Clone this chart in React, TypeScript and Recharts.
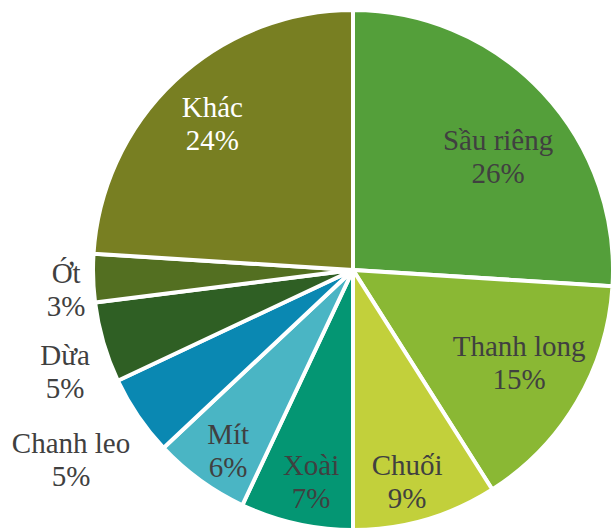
import { PieChart, Pie, Cell } from "recharts";

const fruits = ["Sầu riêng", "Thanh long", "Chuối", "Xoài", "Mít", "Chanh leo", "Dừa", "Ớt", "Khác"];
const shares = [26, 15, 9, 7, 6, 5, 5, 3, 24];
const sliceColors = ["#549f3a", "#8ab834", "#c2d03b", "#049673", "#4ab5c4", "#0a88b2", "#2f5f24", "#536f21", "#787f22"];

// label placement: distance from centre (share of radius) and a small angle nudge in degrees
const labelDist = [0.717, 0.725, 0.827, 0.816, 0.833, 1.299, 1.17, 1.105, 0.79];
const labelNudge = [-4.3, 2.4, -1.6, 1.2, 0.8, -0.8, 2.6, 1.4, 0];
const labelColor = ["#404040", "#404040", "#404040", "#404040", "#404040", "#404040", "#404040", "#404040", "#ffffff"];

const data = fruits.map((name, i) => ({ name, value: shares[i] }));

const RAD = Math.PI / 180;
const SERIF = "Liberation Serif";

function renderLabel(props: any) {
    const { cx, cy, midAngle, outerRadius, index } = props;
    const r = outerRadius * labelDist[index];
    const a = (midAngle + labelNudge[index]) * RAD;
    const x = cx + r * Math.cos(-a);
    const y = cy + r * Math.sin(-a);
    return (
        <g key={"lbl" + index}>
            <text x={x} y={y - 3} textAnchor="middle" fill={labelColor[index]} style={{ fontFamily: SERIF, fontSize: 29 }}>
                {fruits[index]}
            </text>
            <text x={x} y={y + 30} textAnchor="middle" fill={labelColor[index]} style={{ fontFamily: SERIF, fontSize: 29 }}>
                {shares[index]}%
            </text>
        </g>
    );
}

export default function App() {
    return (
        <div style={{ position: "absolute", left: 0, top: 0, width: 616, height: 531, background: "#fff" }}>
            <PieChart width={616} height={531} margin={{ top: 0, right: 0, bottom: 0, left: 0 }}>
                <Pie
                    data={data}
                    dataKey="value"
                    nameKey="name"
                    cx={353}
                    cy={270}
                    outerRadius={260}
                    startAngle={90}
                    endAngle={-270}
                    stroke="#ffffff"
                    strokeWidth={4}
                    label={renderLabel}
                    labelLine={false}
                    isAnimationActive={false}
                >
                    {data.map((_, i) => (
                        <Cell key={i} fill={sliceColors[i]} />
                    ))}
                </Pie>
            </PieChart>
        </div>
    );
}
